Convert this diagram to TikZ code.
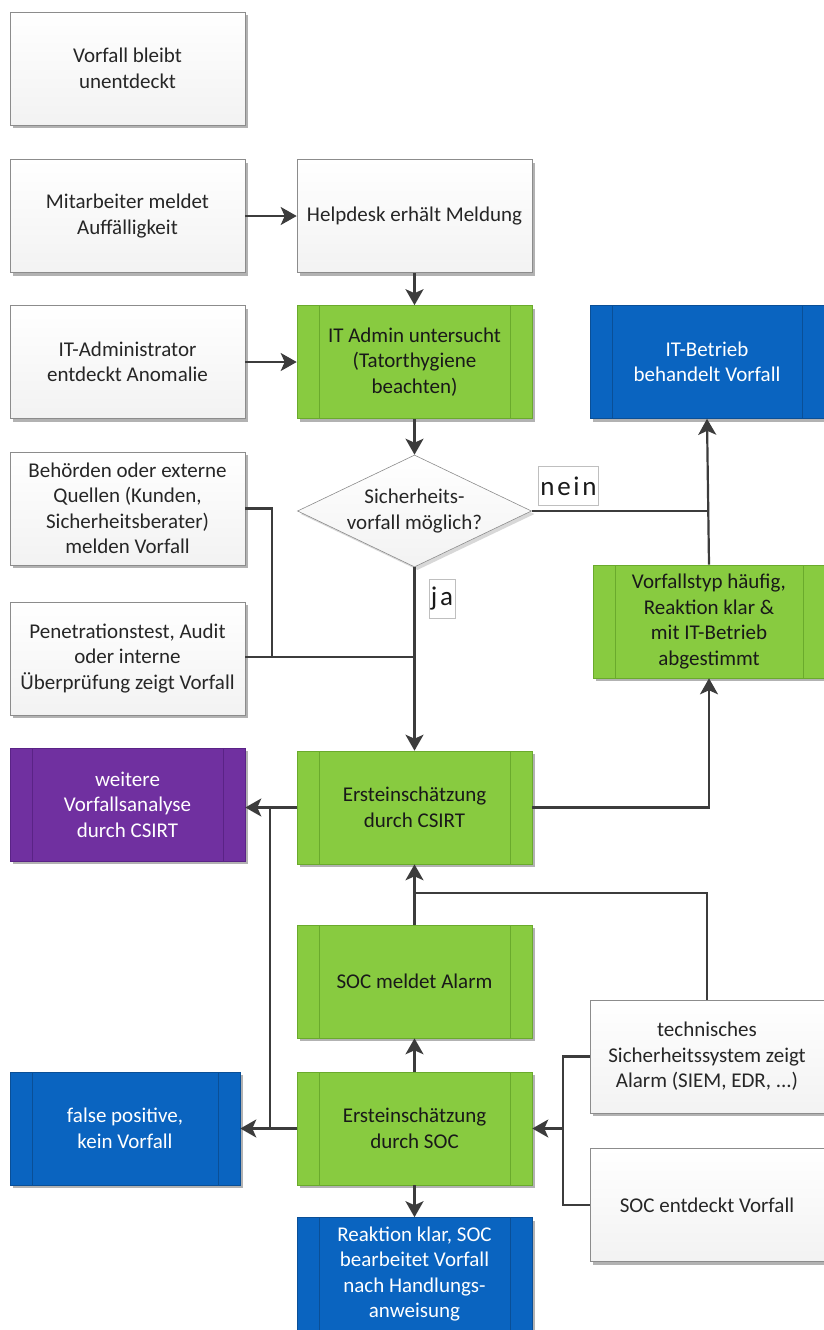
\documentclass[tikz,border=0pt]{standalone}
\usepackage{fontspec}
\setmainfont{Carlito}
\newfontfamily\labfont[LetterSpace=10]{Carlito}
\usetikzlibrary{shapes.geometric,arrows.meta,shadows,calc}
\definecolor{linecol}{HTML}{3C3C3C}
\definecolor{grn}{HTML}{88CB40}
\definecolor{grnline}{HTML}{6AAA2C}
\definecolor{blu}{HTML}{0A64C0}
\definecolor{bluline}{HTML}{0A4F96}
\definecolor{pur}{HTML}{7030A0}
\definecolor{purline}{HTML}{5A2386}
\newcommand{\boxfont}{\fontsize{21}{25.5}\selectfont}
\tikzset{
  base/.style={minimum width=235pt, minimum height=113pt, align=center, inner sep=2pt,
    font=\boxfont, drop shadow={shadow xshift=3pt, shadow yshift=-3pt, fill=black!30, opacity=1}},
  innerlines/.style={path picture={\draw[#1, line width=0.6pt]
      ([xshift=22pt]path picture bounding box.north west) -- ([xshift=22pt]path picture bounding box.south west)
      ([xshift=-22pt]path picture bounding box.north east) -- ([xshift=-22pt]path picture bounding box.south east);}},
  wbox/.style={base, draw=black!45, line width=0.6pt, top color=white, bottom color=black!5, text=black!85},
  gbox/.style={base, draw=grnline, line width=0.6pt, fill=grn, text=black!90, innerlines=grnline},
  bbox/.style={base, draw=bluline, line width=0.6pt, fill=blu, text=white, innerlines=bluline},
  pbox/.style={base, draw=purline, line width=0.6pt, fill=pur, text=white, innerlines=purline},
  dbox/.style={shape=diamond, aspect=2.1, inner sep=0pt, minimum width=234pt, minimum height=112pt,
    align=center, font=\boxfont, draw=black!45, line width=0.6pt, top color=white, bottom color=black!5,
    text=black!85, drop shadow={shadow xshift=3pt, shadow yshift=-3pt, fill=black!30}},
  lab/.style={draw=black!25, line width=0.5pt, fill=white, inner sep=2pt, minimum height=39pt, text=black!90,
    font=\labfont\fontsize{27}{30}\selectfont},
  conn/.style={draw=linecol, line width=2.2pt},
  arr/.style={conn, -{Stealth[length=16pt,width=18pt,inset=4pt]}},
}
\begin{document}
\begin{tikzpicture}[x=1pt,y=-1pt]
\useasboundingbox (0,0) rectangle (824,1330);
% nodes
\node[wbox] (unent) at (127.5,68.5) {Vorfall bleibt\\unentdeckt};
\node[wbox] (mitarb) at (127.5,216) {Mitarbeiter meldet\\Auffälligkeit};
\node[wbox] (help) at (414.5,216) {Helpdesk erhält Meldung};
\node[wbox] (itadm) at (127.5,362) {IT-Administrator\\entdeckt Anomalie};
\node[gbox] (itunt) at (414.5,362) {IT Admin untersucht\\(Tatorthygiene\\beachten)};
\node[bbox, minimum width=234pt] (itbet) at (707,362) {IT-Betrieb\\behandelt Vorfall};
\node[dbox] (dia) at (414.5,511) {Sicherheits-\\vorfall möglich?};
\node[wbox] (behoerd) at (127.5,508.5) {Behörden oder externe\\Quellen (Kunden,\\Sicherheitsberater)\\melden Vorfall};
\node[wbox] (pentest) at (127.5,658.5) {Penetrationstest, Audit\\oder interne\\Überprüfung zeigt Vorfall};
\node[gbox, minimum width=232pt] (vtyp) at (709,621.5) {Vorfallstyp häufig,\\Reaktion klar \&\\mit IT-Betrieb\\abgestimmt};
\node[gbox] (csirt) at (414.5,807.5) {Ersteinschätzung\\durch CSIRT};
\node[pbox] (weiter) at (127.5,804.5) {weitere\\Vorfallsanalyse\\durch CSIRT};
\node[gbox] (socalarm) at (414.5,981.5) {SOC meldet Alarm};
\node[wbox, minimum width=234pt] (tech) at (707,1056.5) {technisches\\Sicherheitssystem zeigt\\Alarm (SIEM, EDR, ...)};
\node[gbox] (socerst) at (414.5,1128.5) {Ersteinschätzung\\durch SOC};
\node[bbox, minimum width=230pt] (fp) at (125,1128.5) {false positive,\\kein Vorfall};
\node[wbox, minimum width=234pt] (socentd) at (707,1205) {SOC entdeckt Vorfall};
\node[bbox] (reakt) at (414.5,1274) {Reaktion klar, SOC\\bearbeitet Vorfall\\nach Handlungs-\\anweisung};
% labels
\node[lab] (nein) at (568.5,486) {nein};
\node[lab] (ja) at (442,599) {ja};
% junction coordinates
\coordinate (jb) at (272,657);
\coordinate (jp) at (414.5,657);
\coordinate (v1) at (270,807.5);
\coordinate (v2) at (270,1128.5);
\coordinate (jt) at (414.5,893);
\coordinate (js) at (563,1205);
\coordinate (js2) at (563,1128.5);
% connectors
\draw[arr] (mitarb.east) -- (help.west);
\draw[arr] (help.south) -- (itunt.north);
\draw[arr] (itadm.east) -- (itunt.west);
\draw[arr] (itunt.south) -- (dia.north);
\draw[conn] (dia.east) -- (dia.east -| vtyp.north);
\draw[arr] (vtyp.north) -- (itbet.south);
\draw[arr] (dia.south) -- (csirt.north);
\draw[conn] (behoerd.east) -| (jb) -- (jp);
\draw[conn] (pentest.east |- jp) -- (jb);
\draw[arr] (csirt.east) -| (vtyp.south);
\draw[arr] (csirt.west) -- (csirt.west -| weiter.east);
\draw[conn] (v1) -- (v2);
\draw[arr] (socerst.west) -- (fp.east);
\draw[arr] (socalarm.north) -- (csirt.south);
\draw[conn] (tech.north) |- (jt);
\draw[arr] (socerst.north) -- (socalarm.south);
\draw[conn] (tech.west) -| (js) -- (socentd.west);
\draw[arr] (js2) -- (socerst.east);
\draw[arr] (socerst.south) -- (reakt.north);
\end{tikzpicture}
\end{document}
